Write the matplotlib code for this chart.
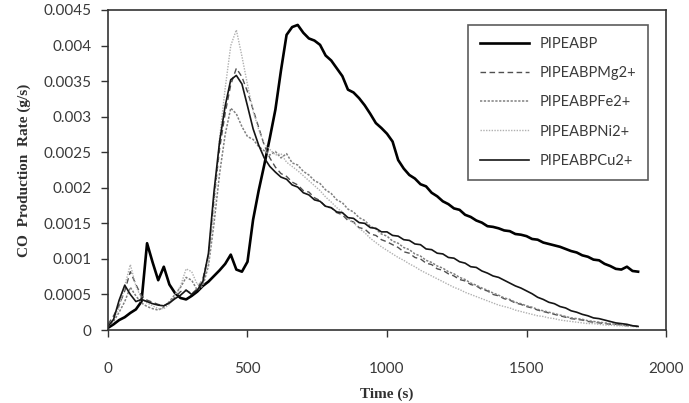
import numpy as np
import matplotlib
matplotlib.use("Agg")
import matplotlib.pyplot as plt

# time grid (s), one reading every 20 s
time_s = np.arange(0, 1901, 20)

# CO production rate, in units of 1e-4 g/s
pipeabp = [
    0.3, 0.8, 1.4, 1.8, 2.4, 2.9, 4.0, 12.2, 9.5, 7.0,
    8.9, 6.4, 5.2, 4.5, 4.3, 4.8, 5.4, 6.2, 6.8, 7.6,
    8.4, 9.3, 10.6, 8.5, 8.2, 9.6, 15.5, 19.6, 23.2, 27.0,
    31.0, 36.5, 41.5, 42.6, 42.9, 41.8, 41.0, 40.7, 40.1, 38.6,
    37.9, 36.8, 35.7, 33.8, 33.4, 32.6, 31.6, 30.4, 29.1, 28.4,
    27.6, 26.5, 23.9, 22.7, 21.8, 21.3, 20.5, 20.2, 19.3, 18.8,
    18.1, 17.7, 17.1, 16.9, 16.2, 15.9, 15.4, 15.1, 14.6, 14.5,
    14.3, 14.0, 13.9, 13.5, 13.4, 13.2, 12.8, 12.7, 12.3, 12.1,
    11.9, 11.7, 11.4, 11.1, 10.9, 10.5, 10.3, 9.9, 9.8, 9.3,
    9.0, 8.6, 8.5, 8.9, 8.3, 8.2,
]
pipeabp_mg = [
    0.8, 2.0, 3.5, 5.5, 8.2, 6.4, 4.8, 4.2, 3.9, 3.6,
    3.4, 3.9, 4.6, 5.4, 5.6, 5.1, 5.8, 7.2, 10.5, 18.5,
    25.5, 30.5, 34.5, 36.8, 35.6, 33.5, 31.0, 28.5, 26.0, 24.2,
    22.9, 22.0, 21.6, 20.8, 20.4, 19.6, 19.4, 18.6, 18.2, 17.3,
    17.2, 16.5, 16.2, 15.4, 15.2, 14.4, 14.2, 13.5, 13.3, 12.7,
    12.4, 12.0, 11.6, 11.0, 10.8, 10.2, 10.0, 9.4, 9.2, 8.6,
    8.4, 7.9, 7.6, 7.1, 6.9, 6.4, 6.2, 5.7, 5.5, 5.0,
    4.8, 4.4, 4.2, 3.8, 3.6, 3.3, 3.1, 2.8, 2.6, 2.4,
    2.2, 2.0, 1.8, 1.6, 1.5, 1.4, 1.2, 1.1, 1.0, 0.9,
    0.8, 0.8, 0.7, 0.6, 0.6, 0.5,
]
pipeabp_fe = [
    0.5, 1.2, 2.5, 4.0, 6.0, 4.8, 3.8, 3.3, 3.0, 2.8,
    3.2, 4.0, 5.0, 6.0, 7.4, 7.0, 5.6, 6.2, 9.0, 15.0,
    22.0, 27.5, 31.2, 30.4, 28.6, 27.2, 26.8, 25.8, 25.2, 24.6,
    25.1, 24.2, 24.8, 23.5, 23.2, 22.3, 21.8, 21.0, 20.6, 19.7,
    19.2, 18.3, 17.9, 17.0, 16.6, 15.8, 15.4, 14.6, 14.2, 13.5,
    13.2, 12.5, 12.2, 11.6, 11.3, 10.7, 10.4, 9.8, 9.5, 9.0,
    8.7, 8.2, 7.9, 7.4, 7.1, 6.6, 6.3, 5.9, 5.6, 5.2,
    4.9, 4.5, 4.3, 3.9, 3.7, 3.4, 3.2, 2.9, 2.7, 2.5,
    2.3, 2.1, 1.9, 1.7, 1.6, 1.5, 1.3, 1.2, 1.1, 1.0,
    0.9, 0.8, 0.7, 0.7, 0.6, 0.5,
]
pipeabp_ni = [
    0.5, 1.5, 3.2, 6.2, 9.2, 6.2, 4.4, 3.8, 3.4, 3.0,
    3.0, 3.6, 4.8, 6.2, 8.6, 8.2, 6.4, 6.8, 9.5, 17.0,
    27.0, 34.0, 40.0, 42.2, 38.5, 34.5, 30.8, 28.2, 26.2, 25.4,
    24.6, 24.8, 23.6, 23.0, 22.4, 21.7, 21.0, 20.3, 19.6, 18.7,
    18.0, 17.2, 16.6, 15.7, 15.1, 14.3, 13.7, 12.9, 12.3, 11.7,
    11.2, 10.7, 10.2, 9.8, 9.3, 8.9, 8.4, 8.0, 7.6, 7.2,
    6.8, 6.4, 6.0, 5.7, 5.3, 5.0, 4.7, 4.4, 4.1, 3.8,
    3.5, 3.3, 3.1, 2.8, 2.6, 2.4, 2.2, 2.0, 1.9, 1.7,
    1.6, 1.4, 1.3, 1.2, 1.1, 1.0, 0.9, 0.9, 0.8, 0.7,
    0.7, 0.6, 0.6, 0.5, 0.5, 0.4,
]
pipeabp_cu = [
    0.5, 1.5, 4.2, 6.3, 5.0, 4.0, 4.3, 4.0, 3.7, 3.5,
    3.4, 3.8, 4.4, 4.9, 5.6, 5.0, 5.6, 6.8, 10.8, 19.5,
    26.5, 31.5, 35.2, 35.8, 34.6, 31.5, 28.3, 26.0, 24.2, 23.0,
    22.2, 21.5, 21.2, 20.4, 20.1, 19.3, 19.0, 18.3, 18.1, 17.4,
    17.2, 16.6, 16.5, 15.8, 15.7, 15.1, 15.0, 14.4, 14.3, 13.8,
    13.8, 13.3, 13.2, 12.7, 12.6, 12.1, 12.0, 11.4, 11.3, 10.8,
    10.7, 10.2, 10.1, 9.6, 9.4, 8.9, 8.8, 8.3, 8.0, 7.6,
    7.4, 7.0, 6.6, 6.2, 5.9, 5.5, 5.1, 4.6, 4.3, 3.9,
    3.7, 3.3, 3.1, 2.7, 2.5, 2.2, 2.0, 1.7, 1.6, 1.4,
    1.2, 1.0, 0.9, 0.8, 0.6, 0.5,
]

labels = ["PIPEABP", "PIPEABPMg2+", "PIPEABPFe2+", "PIPEABPNi2+", "PIPEABPCu2+"]
x_ticks = [0, 500, 1000, 1500, 2000]
y_ticks = [0, 0.0005, 0.001, 0.0015, 0.002, 0.0025, 0.003, 0.0035, 0.004, 0.0045]
y_tick_labels = ["0", "0.0005", "0.001", "0.0015", "0.002", "0.0025",
                 "0.003", "0.0035", "0.004", "0.0045"]

tick_font = "Lato"
txt_col = "#3a3a3a"

fig = plt.figure(figsize=(6.89, 4.03), dpi=100)
ax = fig.add_axes([108 / 689, 1 - 330 / 403, 558 / 689, 320 / 403])

series = [pipeabp, pipeabp_mg, pipeabp_fe, pipeabp_ni, pipeabp_cu]
styles = [
    dict(color="black", lw=1.9, ls="-"),
    dict(color="#505050", lw=1.0, ls=(0, (4, 2.5))),
    dict(color="#808080", lw=1.1, ls=(0, (1.5, 1))),
    dict(color="#b0b0b0", lw=1.0, ls=(0, (1, 1))),
    dict(color="#151515", lw=1.2, ls="-"),
]
for vals, lab, st in zip(series, labels, styles):
    ax.plot(time_s, np.array(vals) * 1e-4, label=lab, **st)

ax.set_xlim(0, 2000)
ax.set_ylim(0, 0.0045)
ax.set_xticks(x_ticks)
ax.set_yticks(y_ticks)
ax.set_yticklabels(y_tick_labels)
ax.tick_params(axis="x", direction="out", length=5, width=1, pad=18,
               labelsize=11, labelcolor=txt_col, color="#333333")
ax.tick_params(axis="y", direction="out", length=5, width=1, pad=7,
               labelsize=11, labelcolor=txt_col, color="#333333")
for lbl in ax.get_xticklabels() + ax.get_yticklabels():
    lbl.set_fontfamily(tick_font)
for sp in ax.spines.values():
    sp.set_color("#333333")
    sp.set_linewidth(1.2)

ax.set_ylabel("CO  Production  Rate (g/s)", fontfamily="Liberation Serif",
              fontweight="bold", fontsize=11, color="#303030", labelpad=9)
ax.set_xlabel("Time (s)", fontfamily="Liberation Serif", fontweight="bold",
              fontsize=11, color="#303030", labelpad=8)

leg = ax.legend(loc="upper left", bbox_to_anchor=(468 / 689, 1 - 25 / 403),
                bbox_transform=fig.transFigure, frameon=True, fancybox=False,
                prop={"family": tick_font, "size": 10.5}, labelcolor=txt_col,
                handlelength=3.4, handletextpad=0.7, labelspacing=1.05,
                borderpad=0.8, borderaxespad=0)
leg.get_frame().set_edgecolor("#333333")
leg.get_frame().set_linewidth(1.2)

fig.savefig("out.png", dpi=100)
